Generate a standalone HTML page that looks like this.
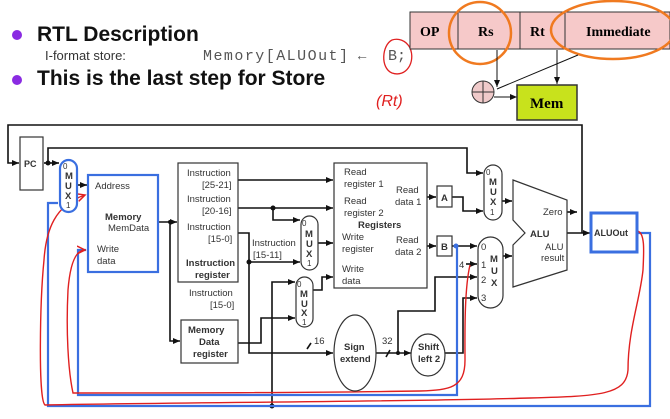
<!DOCTYPE html>
<html><head><meta charset="utf-8"><style>
html,body{margin:0;padding:0;background:#fff;}
svg{display:block;}
text{font-family:"Liberation Sans",sans-serif;}
</style></head><body>
<svg width="670" height="419" viewBox="0 0 670 419" xmlns="http://www.w3.org/2000/svg">
<defs>
<marker id="a" markerWidth="8" markerHeight="8" refX="7" refY="4" orient="auto" markerUnits="userSpaceOnUse"><path d="M0,1 L7,4 L0,7 Z" fill="#111"/></marker>
<marker id="ar" markerWidth="10" markerHeight="10" refX="8" refY="5" orient="auto" markerUnits="userSpaceOnUse"><path d="M0,1 L8,5 L0,9" fill="none" stroke="#e02020" stroke-width="1.5"/></marker>
</defs>
<rect width="670" height="419" fill="#fff"/>
<!-- header -->
<circle cx="17" cy="35" r="5" fill="#8a2be2"/>
<circle cx="17" cy="80" r="5" fill="#8a2be2"/>
<text x="37" y="41" font-size="21" font-weight="bold" fill="#111">RTL Description</text>
<text x="45" y="60" font-size="13" fill="#333">I-format store:</text>
<text x="203" y="60" font-size="15" style="font-family:'Liberation Mono',monospace" fill="#555" textLength="145">Memory[ALUOut]</text>
<text x="355" y="60" font-size="14" fill="#555">←</text>
<text x="388" y="60" font-size="15" style="font-family:'Liberation Mono',monospace" fill="#555">B;</text>
<text x="37" y="85" font-size="21" font-weight="bold" fill="#111">This is the last step for Store</text>
<path d="M392,40 C382,45 380,68 392,73 C406,78 416,62 410,48 C406,40 398,38 392,40" fill="none" stroke="#e02020" stroke-width="1.3"/>
<text x="376" y="106" font-size="16" fill="#e02020" font-style="italic">(Rt)</text>
<!-- instruction format -->
<rect x="410" y="12" width="260" height="37" fill="#f6c9c9" stroke="#333"/>
<line x1="458" y1="12" x2="458" y2="49" stroke="#333"/>
<line x1="520" y1="12" x2="520" y2="49" stroke="#333"/>
<line x1="565" y1="12" x2="565" y2="49" stroke="#333"/>
<g style="font-family:'Liberation Serif',serif" font-weight="bold" font-size="14">
<text x="420" y="36" style="font-family:'Liberation Serif',serif">OP</text>
<text x="478" y="36" style="font-family:'Liberation Serif',serif">Rs</text>
<text x="530" y="36" style="font-family:'Liberation Serif',serif">Rt</text>
<text x="586" y="36" style="font-family:'Liberation Serif',serif">Immediate</text>
</g>
<ellipse cx="480" cy="33" rx="31" ry="31" fill="none" stroke="#f07a20" stroke-width="2.5"/>
<ellipse cx="613" cy="30" rx="62" ry="29" fill="none" stroke="#f07a20" stroke-width="2.5"/>
<line x1="497" y1="50" x2="497" y2="87" stroke="#111" marker-end="url(#a)"/>
<line x1="557" y1="50" x2="557" y2="84" stroke="#111" marker-end="url(#a)"/>
<line x1="578" y1="55" x2="497" y2="89" stroke="#111"/>
<circle cx="483" cy="92" r="11" fill="#f0caca" stroke="#333"/>
<line x1="472" y1="92" x2="494" y2="92" stroke="#333"/><line x1="483" y1="81" x2="483" y2="103" stroke="#333"/>
<line x1="494" y1="97" x2="517" y2="97" stroke="#111" marker-end="url(#a)"/>
<rect x="517" y="85" width="60" height="35" fill="#c8e21c" stroke="#333" stroke-width="1.5"/>
<text x="530" y="108" font-size="15" font-weight="bold" style="font-family:'Liberation Serif',serif">Mem</text>

<!-- datapath wires -->
<g stroke="#111" stroke-width="1.6" fill="none">
<polyline points="582,233 582,125 8,125 8,163 19,163" marker-end="url(#a)"/>
<polyline points="44,163 59,163" marker-end="url(#a)"/>
<polyline points="48,163 48,148 467,148 467,173 483,173" marker-end="url(#a)"/>
<polyline points="77,185 87,185" marker-end="url(#a)"/>
<polyline points="158,222 177,222" marker-end="url(#a)"/>
<polyline points="170,222 170,341 180,341" marker-end="url(#a)"/>
<polyline points="238,180 333,180" marker-end="url(#a)"/>
<polyline points="238,208 333,208" marker-end="url(#a)"/>
<polyline points="273,208 273,220 300,220" marker-end="url(#a)"/>
<polyline points="238,233 249,233 249,353 333,353" marker-end="url(#a)"/>
<polyline points="249,262 300,262" marker-end="url(#a)"/>
<polyline points="318,243 333,243" marker-end="url(#a)"/>
<polyline points="313,290 322,290 322,277 333,277" marker-end="url(#a)"/>
<polyline points="238,343 261,343 261,318 295,318" marker-end="url(#a)"/>
<polyline points="272,406 272,282 295,282" marker-end="url(#a)"/>
<polyline points="427,197 436,197" marker-end="url(#a)"/>
<polyline points="427,246 436,246" marker-end="url(#a)"/>
<polyline points="452,197 463,197 463,211 483,211" marker-end="url(#a)"/>
<polyline points="452,246 477,246" marker-end="url(#a)"/>
<polyline points="466,264 477,264" marker-end="url(#a)"/>
<polyline points="376,353 411,353" marker-end="url(#a)"/>
<polyline points="398,353 398,311 435,311 435,277 477,277" marker-end="url(#a)"/>
<polyline points="445,353 463,353 463,298 477,298" marker-end="url(#a)"/>
<polyline points="502,201 512,201" marker-end="url(#a)"/>
<polyline points="503,256 512,256" marker-end="url(#a)"/>
<polyline points="567,233 590,233" marker-end="url(#a)"/>
<polyline points="567,212 577,212" marker-end="url(#a)"/>
<line x1="311" y1="343" x2="307" y2="349"/>
<line x1="390" y1="350" x2="386" y2="357"/>
</g>
<g fill="#111"><circle cx="48" cy="163" r="2.5"/><circle cx="170" cy="222" r="2"/><circle cx="273" cy="208" r="2.5"/><circle cx="249" cy="262" r="2.5"/><circle cx="272" cy="406" r="2.5"/><circle cx="398" cy="353" r="2"/></g>

<!-- blue wires -->
<g stroke="#3a6fe0" stroke-width="2.2" fill="none">
<polyline points="637,233 650,233 650,406 48,406 48,203 58,203"/>
<polyline points="457,246 457,395 78,395 78,250 86,250"/>
</g>
<circle cx="456" cy="246" r="2.5" fill="#3a6fe0"/>
<!-- red wires -->
<g stroke="#e02020" stroke-width="1.4" fill="none">
<path d="M637,231 C645,232 644,250 643,270 C640,300 628,330 628,370 C626,395 600,396 530,398 C400,402 200,402 45,405 C38,400 40,300 44,260 C46,230 55,205 85,195" marker-end="url(#ar)"/>
<path d="M470,265 C464,290 465,340 465,360 C465,388 450,390 420,391 C300,393 150,393 73,393 C68,370 66,330 68,290 C70,265 75,250 85,250" marker-end="url(#ar)"/>
</g>

<!-- boxes -->
<g stroke="#333" fill="#fff" stroke-width="1.2">
<rect x="20" y="137" width="23" height="53"/>
<rect x="178" y="163" width="60" height="119"/>
<rect x="334" y="163" width="93" height="125"/>
<rect x="181" y="320" width="57" height="43"/>
<rect x="437" y="186" width="15" height="21"/>
<rect x="437" y="236" width="15" height="20"/>
<rect x="301" y="216" width="17" height="54" rx="8.5"/>
<rect x="296" y="277" width="17" height="50" rx="8.5"/>
<rect x="484" y="165" width="18" height="55" rx="9"/>
<rect x="478" y="237" width="25" height="71" rx="12.5"/>
<polygon points="513,180 567,200 567,270 513,287 513,245 525,233 513,220"/>
<ellipse cx="355" cy="353" rx="21" ry="38"/>
<ellipse cx="428" cy="355" rx="17" ry="21"/>
</g>
<rect x="60" y="160" width="17" height="52" rx="8.5" fill="#fff" stroke="#3a6fe0" stroke-width="2.2"/>
<rect x="88" y="175" width="70" height="97" fill="#fff" stroke="#3a6fe0" stroke-width="2.2"/>
<rect x="591" y="213" width="46" height="39" fill="#fff" stroke="#3a6fe0" stroke-width="3"/>

<g font-size="9.5" fill="#333">
<text x="24" y="167" font-weight="bold" font-size="9">PC</text>
<text x="63" y="169" font-size="8">0</text><text x="65" y="179" font-weight="bold">M</text><text x="65" y="189" font-weight="bold">U</text><text x="65" y="199" font-weight="bold">X</text><text x="66" y="208" font-size="8">1</text>
<text x="95" y="189">Address</text>
<text x="105" y="220" font-weight="bold">Memory</text>
<text x="108" y="231">MemData</text>
<text x="97" y="252">Write</text><text x="97" y="264">data</text>
<text x="187" y="176">Instruction</text><text x="202" y="188">[25-21]</text>
<text x="187" y="202">Instruction</text><text x="202" y="214">[20-16]</text>
<text x="187" y="230">Instruction</text><text x="208" y="242">[15-0]</text>
<text x="186" y="266" font-weight="bold">Instruction</text><text x="195" y="278" font-weight="bold">register</text>
<text x="189" y="296">Instruction</text><text x="210" y="308">[15-0]</text>
<text x="252" y="246">Instruction</text><text x="253" y="258">[15-11]</text>
<text x="188" y="333" font-weight="bold">Memory</text><text x="199" y="345" font-weight="bold">Data</text><text x="193" y="357" font-weight="bold">register</text>
<text x="344" y="175">Read</text><text x="344" y="187">register 1</text>
<text x="344" y="204">Read</text><text x="344" y="216">register 2</text>
<text x="358" y="228" font-weight="bold">Registers</text>
<text x="342" y="240">Write</text><text x="342" y="252">register</text>
<text x="342" y="272">Write</text><text x="342" y="284">data</text>
<text x="396" y="193">Read</text><text x="395" y="205">data 1</text>
<text x="396" y="243">Read</text><text x="395" y="255">data 2</text>
<text x="441" y="201" font-weight="bold">A</text><text x="441" y="250" font-weight="bold">B</text>
<text x="302" y="226" font-size="8">0</text><text x="305" y="237" font-weight="bold">M</text><text x="306" y="247" font-weight="bold">U</text><text x="306" y="257" font-weight="bold">X</text><text x="307" y="266" font-size="8">1</text>
<text x="297" y="287" font-size="8">0</text><text x="300" y="297" font-weight="bold">M</text><text x="301" y="307" font-weight="bold">U</text><text x="301" y="316" font-weight="bold">X</text><text x="302" y="325" font-size="8">1</text>
<text x="486" y="175" font-size="8">0</text><text x="489" y="185" font-weight="bold">M</text><text x="490" y="195" font-weight="bold">U</text><text x="490" y="205" font-weight="bold">X</text><text x="490" y="215" font-size="8">1</text>
<text x="481" y="250">0</text><text x="481" y="268">1</text><text x="481" y="283">2</text><text x="481" y="301">3</text>
<text x="490" y="262" font-weight="bold">M</text><text x="491" y="274" font-weight="bold">U</text><text x="491" y="286" font-weight="bold">X</text>
<text x="459" y="268">4</text>
<text x="530" y="237" font-weight="bold">ALU</text>
<text x="545" y="250">ALU</text><text x="541" y="261">result</text>
<text x="543" y="215">Zero</text>
<text x="594" y="236" font-weight="bold" font-size="9">ALUOut</text>
<text x="314" y="344">16</text><text x="382" y="344">32</text>
<text x="344" y="350" font-weight="bold">Sign</text><text x="340" y="362" font-weight="bold">extend</text>
<text x="418" y="350" font-weight="bold">Shift</text><text x="418" y="362" font-weight="bold">left 2</text>
</g>
</svg>
</body></html>
